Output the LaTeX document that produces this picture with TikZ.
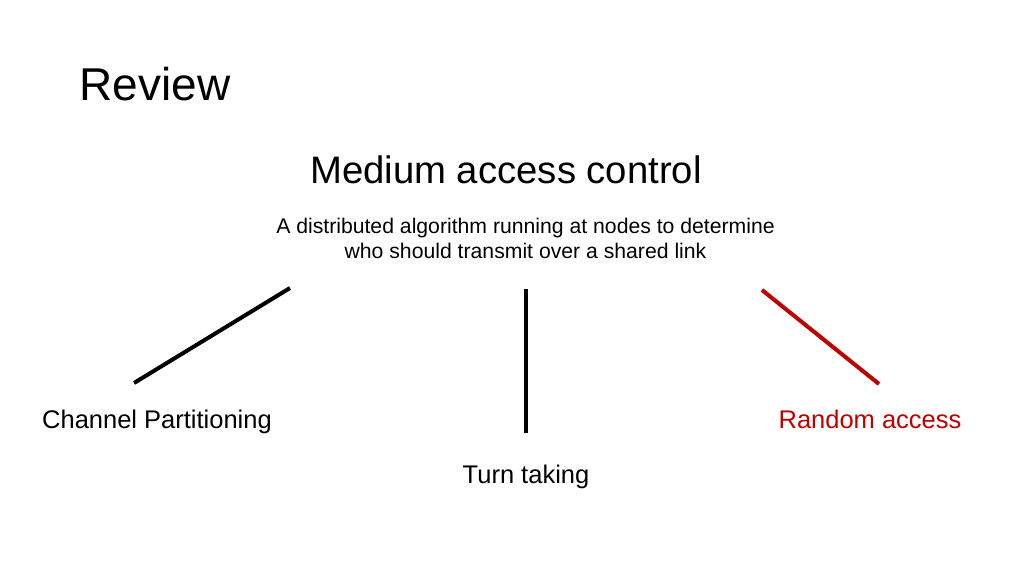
\documentclass[tikz,border=0pt]{standalone}
\usepackage{fontspec}
\setmainfont{Liberation Sans}
\definecolor{darkred}{HTML}{C00000}
\begin{document}
\begin{tikzpicture}[x=1pt,y=-1pt,
  txt/.style={inner sep=0pt,anchor=base},
  bar/.style={line width=4pt}]
\useasboundingbox (0,0) rectangle (1024,576);
\node[txt,font=\fontsize{46}{52}\selectfont] (review) at (155,100) {Review};
\node[txt,font=\fontsize{38.3}{44}\selectfont] (mac) at (506,183) {Medium access control};
\node[txt,align=center,font=\fontsize{21.2}{25}\selectfont] (desc) at (525.5,258) {A distributed algorithm running at nodes to determine\\ who should transmit over a shared link};
\node[txt,font=\fontsize{25.5}{30}\selectfont] (cp) at (157,428) {Channel Partitioning};
\node[txt,text=darkred,font=\fontsize{25.5}{30}\selectfont] (ra) at (870,428) {Random access};
\node[txt,font=\fontsize{25.5}{30}\selectfont] (tt) at (526,483) {Turn taking};
\coordinate (l1) at (290,288); \coordinate (l2) at (134,383);
\coordinate (m1) at (526,289); \coordinate (m2) at (526,433);
\coordinate (r1) at (762,290); \coordinate (r2) at (879,384);
\draw[bar] (l1) -- (l2);
\draw[bar] (m1) -- (m2);
\draw[bar,darkred] (r1) -- (r2);
\end{tikzpicture}
\end{document}
